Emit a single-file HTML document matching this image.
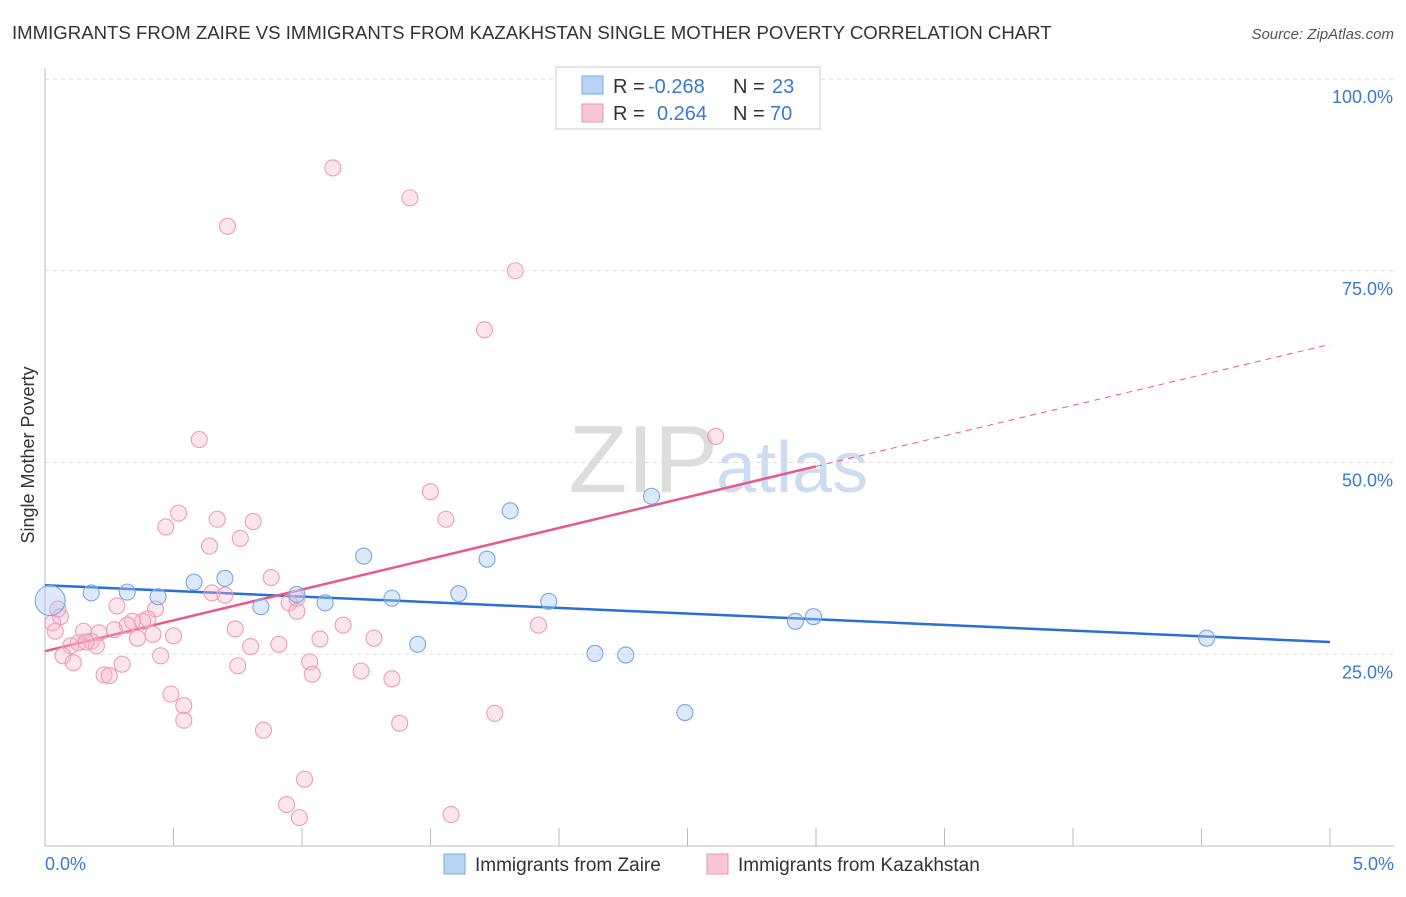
<!DOCTYPE html>
<html><head><meta charset="utf-8"><style>
body{margin:0;background:#fff;font-family:"Liberation Sans",sans-serif;}
svg text{font-family:"Liberation Sans",sans-serif;}
</style></head><body>
<svg id="chart" width="1406" height="892" xmlns="http://www.w3.org/2000/svg">
<text x="12" y="39" font-size="18.6" fill="#333">IMMIGRANTS FROM ZAIRE VS IMMIGRANTS FROM KAZAKHSTAN SINGLE MOTHER POVERTY CORRELATION CHART</text>
<text x="1394" y="39" font-size="15" fill="#555" font-style="italic" text-anchor="end">Source: ZipAtlas.com</text>
<text x="718" y="492" font-size="96" fill="#ddd" text-anchor="end" font-family="Liberation Serif">ZIP</text>
<text x="716" y="492" font-size="72" fill="#cddcf0">atlas</text>
<g id="grid"></g>
<g id="axes"></g>
<text transform="translate(34,455) rotate(-90)" font-size="18" fill="#333" text-anchor="middle">Single Mother Poverty</text>
<g id="trends"></g>
<g id="points"></g>
<g>
<rect x="556" y="67" width="264" height="62" fill="#fff" stroke="#ccc"/>
<rect x="582" y="76" width="21" height="18" fill="#b8d3f5" stroke="#7aa8e0"/>
<rect x="582" y="104" width="21" height="18" fill="#f9c6d6" stroke="#ec93b2"/>
<text x="613" y="93" font-size="20" fill="#333">R =</text>
<text x="648" y="93" font-size="20" fill="#3a78d4">-0.268</text>
<text x="733" y="93" font-size="20" fill="#333">N =</text>
<text x="772" y="93" font-size="20" fill="#3a78d4">23</text>
<text x="613" y="120" font-size="20" fill="#333">R =</text>
<text x="657" y="120" font-size="20" fill="#3a78d4">0.264</text>
<text x="733" y="120" font-size="20" fill="#333">N =</text>
<text x="770" y="120" font-size="20" fill="#3a78d4">70</text>
</g>
<g>
<rect x="444" y="854" width="21" height="20" fill="#b8d3f5" stroke="#7aa8e0"/>
<text x="475" y="871" font-size="19" fill="#333">Immigrants from Zaire</text>
<rect x="707" y="854" width="21" height="20" fill="#f9c6d6" stroke="#ec93b2"/>
<text x="738" y="871" font-size="19" fill="#333">Immigrants from Kazakhstan</text>
</g>
</svg>
<script>
const yTicks=[25,50,75,100];
const yTickLabels=["25.0%","50.0%","75.0%","100.0%"];
const zaireX=[0.02,0.18,0.32,0.44,0.58,0.70,0.84,0.98,1.09,1.24,1.35,1.45,1.61,1.72,1.81,1.96,2.14,2.26,2.36,2.49,2.92,2.99,4.52];
const zaireY=[32,33,33.1,32.5,34.4,34.9,31.2,32.8,31.7,37.8,32.3,26.3,32.9,37.4,43.7,31.9,25.1,24.9,45.6,17.4,29.3,29.9,27.1];
const kazX=[1.12,1.42,0.71,1.83,1.71,0.60,2.61,1.50,0.52,0.47,0.67,0.81,1.56,0.76,0.64,0.88,0.65,0.70,0.98,0.95,0.98,0.28,0.43,0.40,0.38,0.34,0.06,0.03,0.04,0.15,0.21,0.27,0.32,0.42,0.50,0.36,0.18,0.13,0.20,0.10,0.74,1.07,1.16,1.28,1.92,0.80,0.91,0.45,0.07,0.11,0.30,0.23,0.25,0.75,1.03,1.04,1.23,1.35,0.49,0.54,0.54,0.85,1.38,1.75,1.01,0.94,0.99,1.58,0.05,0.16];
const kazY=[88.4,84.5,80.8,75.0,67.3,53.0,53.4,46.2,43.4,41.6,42.6,42.3,42.6,40.1,39.1,35.0,33.0,32.7,32.3,31.7,30.6,31.3,30.9,29.6,29.3,29.3,29.9,29.1,28.0,28.0,27.8,28.2,28.8,27.6,27.4,27.1,26.7,26.5,26.1,26.1,28.3,27.0,28.8,27.1,28.8,26.0,26.3,24.8,24.8,23.9,23.7,22.3,22.2,23.5,24.0,22.4,22.8,21.8,19.8,18.3,16.4,15.1,16.0,17.3,8.7,5.4,3.7,4.1,30.9,26.6];
const zaireTrend=[34.0,26.6];
const kazTrend=[25.4,49.5,65.4];
const X0=45,X1=1330,Y0=846,Y100=79;
const xs=v=>X0+(X1-X0)*v/5;
const ys=v=>Y0-(Y0-Y100)*v/100;
const NS="http://www.w3.org/2000/svg";
function mk(t,a,p){const e=document.createElementNS(NS,t);for(const k in a)e.setAttribute(k,a[k]);p.appendChild(e);return e;}
const grid=document.getElementById('grid'),axes=document.getElementById('axes');
yTicks.forEach((t,i)=>{
 const l=mk('line',{x1:X0,x2:1394,y1:ys(t),y2:ys(t),stroke:'#ddd','stroke-dasharray':'4,4'},grid);
 
 
 const tx=mk('text',{x:1393,y:ys(t)+24,'font-size':18,fill:'#3a78d4','text-anchor':'end'},axes);
 tx.textContent=yTickLabels[i];
 
 
});
const ya=mk('line',{x1:X0,x2:X0,y1:68,y2:846,stroke:'#bbb'},axes);


const xa=mk('line',{x1:X0,x2:1394,y1:846,y2:846,stroke:'#bbb'},axes);


for(let i=0;i<=10;i++){const tk=mk('line',{x1:xs(i*0.5),x2:xs(i*0.5),y1:828,y2:846,stroke:'#bbb'},axes);
 
 }
const xl0=mk('text',{x:45,y:870,'font-size':18,fill:'#3a78d4'},axes);xl0.textContent='0.0%';


const xl1=mk('text',{x:1394,y:870,'font-size':18,fill:'#3a78d4','text-anchor':'end'},axes);xl1.textContent='5.0%';


const pts=document.getElementById('points');
kazX.forEach((x,i)=>{const c=mk('circle',{cx:xs(x),cy:ys(kazY[i]),r:8,fill:'rgba(246,180,202,0.35)',stroke:'#ee9bb8','stroke-width':1.1},pts);
 
 });
zaireX.forEach((x,i)=>{const c=mk('circle',{cx:xs(x),cy:ys(zaireY[i]),r:i==0?15:8,fill:'rgba(168,200,242,0.4)',stroke:'#79a7e2','stroke-width':1.1},pts);
 
 });
const tr=document.getElementById('trends');
const bt=mk('line',{x1:xs(0),y1:ys(zaireTrend[0]),x2:xs(5),y2:ys(zaireTrend[1]),stroke:'#2a6fd6','stroke-width':2.5},tr);


const pt=mk('line',{x1:xs(0),y1:ys(kazTrend[0]),x2:xs(3),y2:ys(kazTrend[1]),stroke:'#e8588a','stroke-width':2.5},tr);


const pd=mk('line',{x1:xs(3),y1:ys(kazTrend[1]),x2:xs(5),y2:ys(kazTrend[2]),stroke:'#e8588a','stroke-width':1,'stroke-dasharray':'6,5'},tr);


</script>
</body></html>
